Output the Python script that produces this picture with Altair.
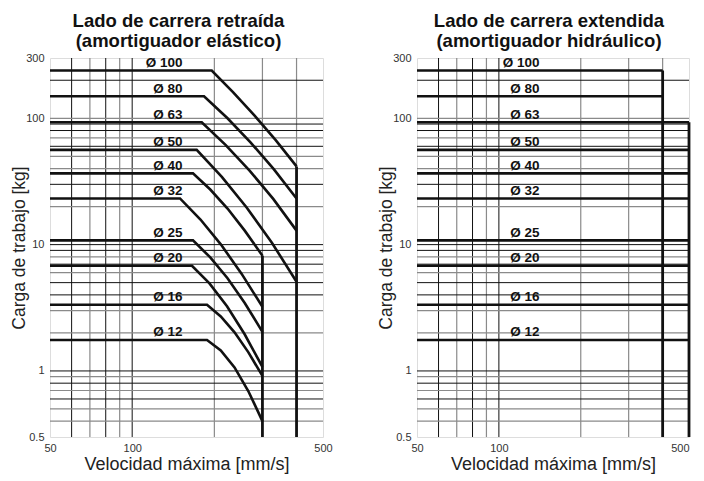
import altair as alt
import pandas as pd

FONT = "Liberation Sans"

# ---- data ----
diameters = ["Ø 100", "Ø 80", "Ø 63", "Ø 50", "Ø 40", "Ø 32", "Ø 25", "Ø 20", "Ø 16", "Ø 12"]
levels = [239, 149.5, 93, 56.2, 36.6, 23.2, 10.8, 6.8, 3.34, 1.76]

# left panel: break point + curve points (speed mm/s)
curve_speed = {
    "Ø 100": [195.6, 234.0, 280.3, 335.5, 400],
    "Ø 80": [183.3, 223.0, 271.3, 330.1, 400],
    "Ø 63": [179.8, 219.7, 268.7, 328.6, 400],
    "Ø 50": [172.3, 213.0, 263.0, 324.9, 400],
    "Ø 40": [167.0, 193.2, 223.5, 258.4, 300],
    "Ø 32": [149.7, 177.9, 211.5, 251.5, 300],
    "Ø 25": [167.0, 193.2, 223.5, 258.4, 300],
    "Ø 20": [165.6, 191.9, 222.5, 257.9, 300],
    "Ø 16": [188.0, 211.1, 237.1, 266.2, 300],
    "Ø 12": [188.0, 211.1, 237.1, 266.2, 300],
}
# left panel: load along the curve (kg)
curve_load = {
    "Ø 100": [239, 160.8, 105.3, 67.1, 41.6],
    "Ø 80": [149.5, 100.5, 64.5, 39.6, 23.2],
    "Ø 63": [93, 61.6, 38.7, 23.0, 12.9],
    "Ø 50": [56.2, 34.4, 19.6, 10.35, 5.08],
    "Ø 40": [36.6, 27.3, 19.3, 12.9, 8.18],
    "Ø 32": [23.2, 15.8, 10.0, 5.89, 3.22],
    "Ø 25": [10.8, 7.92, 5.42, 3.45, 2.04],
    "Ø 20": [6.8, 4.93, 3.25, 1.96, 1.076],
    "Ø 16": [3.34, 2.70, 2.02, 1.41, 0.913],
    "Ø 12": [1.76, 1.455, 1.066, 0.694, 0.401],
}
left_limit_speed = [300, 400]
left_limit_top = [8.18, 41.6]

# right panel: constant load up to max speed
right_end_speed = [400, 400, 500, 500, 500, 500, 500, 500, 500, 500]
right_limit_speed = [400, 500]
right_limit_top = [239, 93]

x_min, x_max = 50, 500
y_min, y_max = 0.3, 300
x_ticks = [50, 100, 500]
y_ticks = [0.3, 1, 10, 100, 300]

xgrid_black = [60, 80, 100]
xgrid_gray = [70, 90, 200, 300, 400]
ygrid_black = [200, 90, 80, 60, 30, 10, 9, 7, 5, 4, 1, 0.8, 0.6]
ygrid_gray = [100, 70, 50, 40, 20, 8, 6, 3, 2, 0.9, 0.7, 0.5, 0.4]

label_speed_left = 153
label_speed_right = 141

# ---- building ----
xs = alt.Scale(type="log", domain=[x_min, x_max], nice=False)
ys = alt.Scale(type="log", domain=[y_min, y_max], nice=False)


def x_axis(last_right):
    return alt.Axis(values=x_ticks, format="~g", grid=False, ticks=False, domain=False,
                    labelFlush=False,
                    labelAlign=({"condition": {"test": "datum.value >= 500", "value": "right"},
                                 "value": "center"} if last_right else "center"),
                    labelFontSize=11, labelColor="#333", labelPadding=5,
                    title="Velocidad máxima [mm/s]", titleFontSize=18, titleFontWeight="normal",
                    titleColor="#222", titlePadding=2, labelFont=FONT, titleFont=FONT)


y_axis = alt.Axis(values=y_ticks, labelExpr="datum.value < 0.4 ? '0.5' : format(datum.value, '~g')",
                  grid=False, ticks=False, domain=False, labelFontSize=11, labelColor="#333",
                  labelPadding=6, title="Carga de trabajo [kg]", titleFontSize=17.5,
                  titleFontWeight="normal", titleColor="#222", titlePadding=-3,
                  labelFont=FONT, titleFont=FONT)


def panel(lines_df, limits_df, label_speed, title, width, dx, last_right):
    xa = x_axis(last_right)

    def X():
        return alt.X("x:Q", scale=xs, axis=xa)

    def Y():
        return alt.Y("y:Q", scale=ys, axis=y_axis)

    vb = alt.Chart(pd.DataFrame({"x": xgrid_black})).mark_rule(color="#111", strokeWidth=1).encode(x=X())
    vg = alt.Chart(pd.DataFrame({"x": xgrid_gray})).mark_rule(color="#8a8a8a", strokeWidth=1.2).encode(x=X())
    hb = alt.Chart(pd.DataFrame({"y": ygrid_black})).mark_rule(color="#111", strokeWidth=1).encode(y=Y())
    hg = alt.Chart(pd.DataFrame({"y": ygrid_gray})).mark_rule(color="#8a8a8a", strokeWidth=1.2).encode(y=Y())
    lines = alt.Chart(lines_df).mark_line(color="#111", strokeWidth=2.6, strokeJoin="miter").encode(
        x=X(), y=Y(), detail="id:N", order="ord:Q")
    lims = alt.Chart(limits_df).mark_rule(color="#111", strokeWidth=2.8).encode(
        x=X(), y=Y(), y2="y2:Q")
    lab_df = pd.DataFrame({"x": [label_speed] * len(diameters), "y": levels, "t": diameters})
    labels = alt.Chart(lab_df).mark_text(align="right", baseline="middle", dy=-7.5, fontSize=13.5,
                                         fontWeight="bold", font=FONT, color="#111").encode(
        x=X(), y=Y(), text="t:N")
    return alt.layer(vg, vb, hg, hb, lines, lims, labels).properties(
        width=width, height=379,
        title=alt.TitleParams(title, fontSize=18.5, fontWeight="bold", font=FONT, color="#111",
                              anchor="middle", frame="group", dx=dx, offset=2, lineHeight=20))


rows = []
for i, d in enumerate(diameters):
    rows.append({"id": d, "ord": 0, "x": x_min, "y": levels[i]})
    for k, (sv, lv) in enumerate(zip(curve_speed[d], curve_load[d])):
        rows.append({"id": d, "ord": k + 1, "x": sv, "y": lv})
left_lines = pd.DataFrame(rows)
left_lims = pd.DataFrame({"x": left_limit_speed, "y": left_limit_top, "y2": [y_min] * 2})

rows = []
for i, d in enumerate(diameters):
    rows.append({"id": d, "ord": 0, "x": x_min, "y": levels[i]})
    rows.append({"id": d, "ord": 1, "x": right_end_speed[i], "y": levels[i]})
right_lines = pd.DataFrame(rows)
right_lims = pd.DataFrame({"x": right_limit_speed, "y": right_limit_top, "y2": [y_min] * 2})

left = panel(left_lines, left_lims, label_speed_left,
             ["Lado de carrera retraída", "(amortiguador elástico)"], 273, -8, False)
right = panel(right_lines, right_lims, label_speed_right,
              ["Lado de carrera extendida", "(amortiguador hidráulico)"], 272, -4, True)

chart = alt.hconcat(left, right, spacing=44).properties(
    padding={"left": 2, "top": 3, "right": 0, "bottom": 0}
).configure_view(stroke="#111", strokeWidth=1.2).configure(background="white")

chart.save("out.html", embed_options={"renderer": "svg", "actions": False})
